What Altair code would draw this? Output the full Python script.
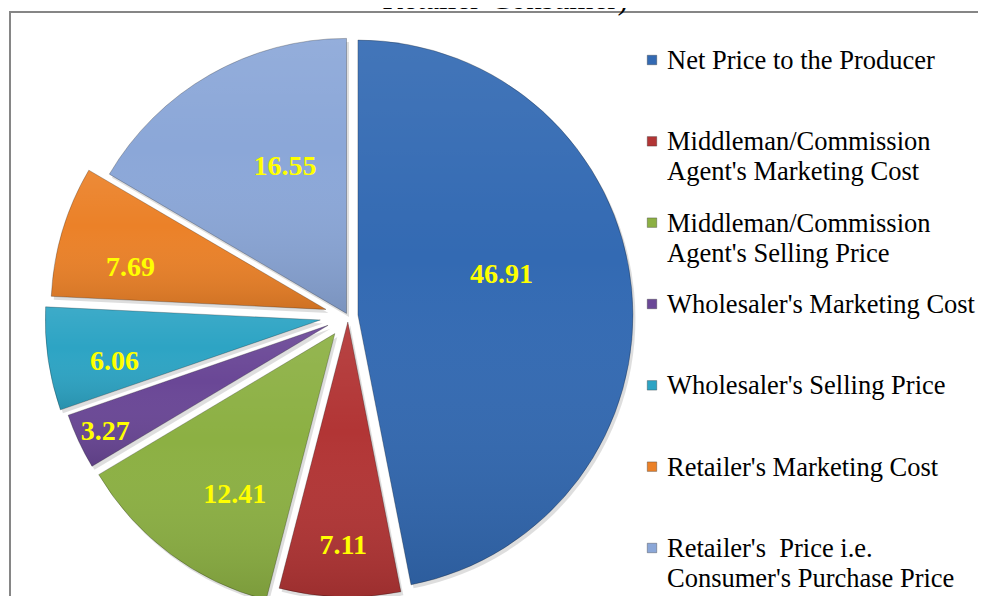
import altair as alt
import pandas as pd

# ---------------- data ----------------
categories = [
    "Net Price to the Producer",
    "Middleman/Commission Agent's Marketing Cost",
    "Middleman/Commission Agent's Selling Price",
    "Wholesaler's Marketing Cost",
    "Wholesaler's Selling Price",
    "Retailer's Marketing Cost",
    "Retailer's  Price i.e. Consumer's Purchase Price",
]
legend_labels = [
    "Net Price to the Producer",
    "Middleman/Commission\nAgent's Marketing Cost",
    "Middleman/Commission\nAgent's Selling Price",
    "Wholesaler's Marketing Cost",
    "Wholesaler's Selling Price",
    "Retailer's Marketing Cost",
    "Retailer's\u00a0 Price i.e.\nConsumer's Purchase Price",
]
shares = [46.91, 7.11, 12.41, 3.27, 6.06, 7.69, 16.55]
title_text = "Retailer-Consumer)"

# ---------------- style ----------------
colors = ["#336AB3", "#B23535", "#8CB043", "#6A4796", "#2DA4C4", "#EB8128", "#8BA7D8"]
explode_px = [10, 6, 22, 22, 28, 23, 3]            # slice pull-out distance
label_r_px = [149, 224, 190, 247, 210, 200, 159]     # label distance from slice tip
label_dtheta = [-10, -0.5, -5, -0.6, -3.4, -4.5, 7]  # label angle shift (deg)
CX, CY, R = 340, 308, 275
W, H = 970, 588

df = pd.DataFrame({
    "cat": categories,
    "legend": legend_labels,
    "share": shares,
    "order": list(range(len(categories))),
    "ex": explode_px,
    "lr": label_r_px,
    "ld": label_dtheta,
})

base = alt.Chart(df).transform_joinaggregate(
    total="sum(share)"
).transform_window(
    cum="sum(share)", sort=[alt.SortField("order")], frame=[None, 0]
).transform_calculate(
    a0="2*PI*(datum.cum - datum.share)/datum.total",
    a1="2*PI*datum.cum/datum.total",
).transform_calculate(
    mid="(datum.a0 + datum.a1)/2",
).transform_calculate(
    px=f"{CX} + datum.ex*sin(datum.mid)",
    py=f"{CY} - datum.ex*cos(datum.mid)",
    lang="(datum.a0 + datum.a1)/2 + datum.ld*PI/180",
).transform_calculate(
    lx="datum.px + datum.lr*sin(datum.lang)",
    ly="datum.py - datum.lr*cos(datum.lang)",
    sx="datum.px + 2.5",
    sy="datum.py + 3.5",
    lab="format(datum.share, '.2f')",
)

color_enc = alt.Color("cat:N", scale=alt.Scale(domain=categories, range=colors), legend=None)

shadow = base.mark_arc(radius=R, fill="#000000", opacity=0.13).encode(
    x=alt.X("sx:Q", scale=None, axis=None),
    y=alt.Y("sy:Q", scale=None, axis=None),
    theta=alt.Theta("a0:Q", scale=None),
    theta2=alt.Theta2("a1:Q"),
)

slices = base.mark_arc(radius=R, stroke="#000000", strokeOpacity=0.25, strokeWidth=1).encode(
    x=alt.X("px:Q", scale=None, axis=None),
    y=alt.Y("py:Q", scale=None, axis=None),
    theta=alt.Theta("a0:Q", scale=None),
    theta2=alt.Theta2("a1:Q"),
    color=color_enc,
)

sheen = base.mark_arc(
    radius=R,
    fill=alt.Gradient(
        gradient="linear",
        stops=[
            alt.GradientStop(color="rgba(255,255,255,0.08)", offset=0),
            alt.GradientStop(color="rgba(255,255,255,0.0)", offset=0.4),
            alt.GradientStop(color="rgba(0,0,0,0.12)", offset=1),
        ],
        x1=0, x2=0, y1=0, y2=1,
    ),
).encode(
    x=alt.X("px:Q", scale=None, axis=None),
    y=alt.Y("py:Q", scale=None, axis=None),
    theta=alt.Theta("a0:Q", scale=None),
    theta2=alt.Theta2("a1:Q"),
)

labels = base.mark_text(
    font="Liberation Serif", fontSize=28, fontWeight="bold", color="#FFFF00",
    align="center", baseline="middle",
).encode(
    x=alt.X("lx:Q", scale=None, axis=None),
    y=alt.Y("ly:Q", scale=None, axis=None),
    text="lab:N",
)

leg_y = alt.Y("cat:N", sort=categories,
              scale=alt.Scale(type="point", range=[52, 540], padding=0), axis=None)

leg_marks = alt.Chart(df).mark_point(
    shape="square", filled=True, size=90, opacity=1,
    stroke="#333333", strokeWidth=0.6, strokeOpacity=0.6,
).encode(
    x=alt.value(644),
    y=leg_y,
    color=color_enc,
)

leg_text = alt.Chart(df).mark_text(
    font="Liberation Serif", fontSize=26.5, align="left", baseline="alphabetic",
    dy=9, lineBreak="\n", lineHeight=30, color="#000000",
).encode(
    x=alt.value(659),
    y=leg_y,
    text="legend:N",
)

one = pd.DataFrame({"k": [0]})
frame_top = alt.Chart(one).mark_rule(color="#868686", strokeWidth=2).encode(
    x=alt.value(1), x2=alt.value(W), y=alt.value(4)
)
frame_left = alt.Chart(one).mark_rule(color="#868686", strokeWidth=2).encode(
    x=alt.value(2), y=alt.value(3), y2=alt.value(H)
)
title = alt.Chart(one).mark_text(
    font="Liberation Serif", fontSize=31, align="center", baseline="alphabetic", color="#000000"
).encode(x=alt.value(497), y=alt.value(1), text=alt.value(title_text))

chart = alt.layer(
    frame_top, frame_left, title, shadow, slices, sheen, labels, leg_marks, leg_text
).resolve_scale(
    x="independent", y="independent", color="shared"
).properties(
    width=W, height=H, padding=0, autosize=alt.AutoSizeParams(type="none"),
    background="#ffffff",
).configure_view(stroke=None)

chart.save("out.html", embed_options={"renderer": "svg", "actions": False})
